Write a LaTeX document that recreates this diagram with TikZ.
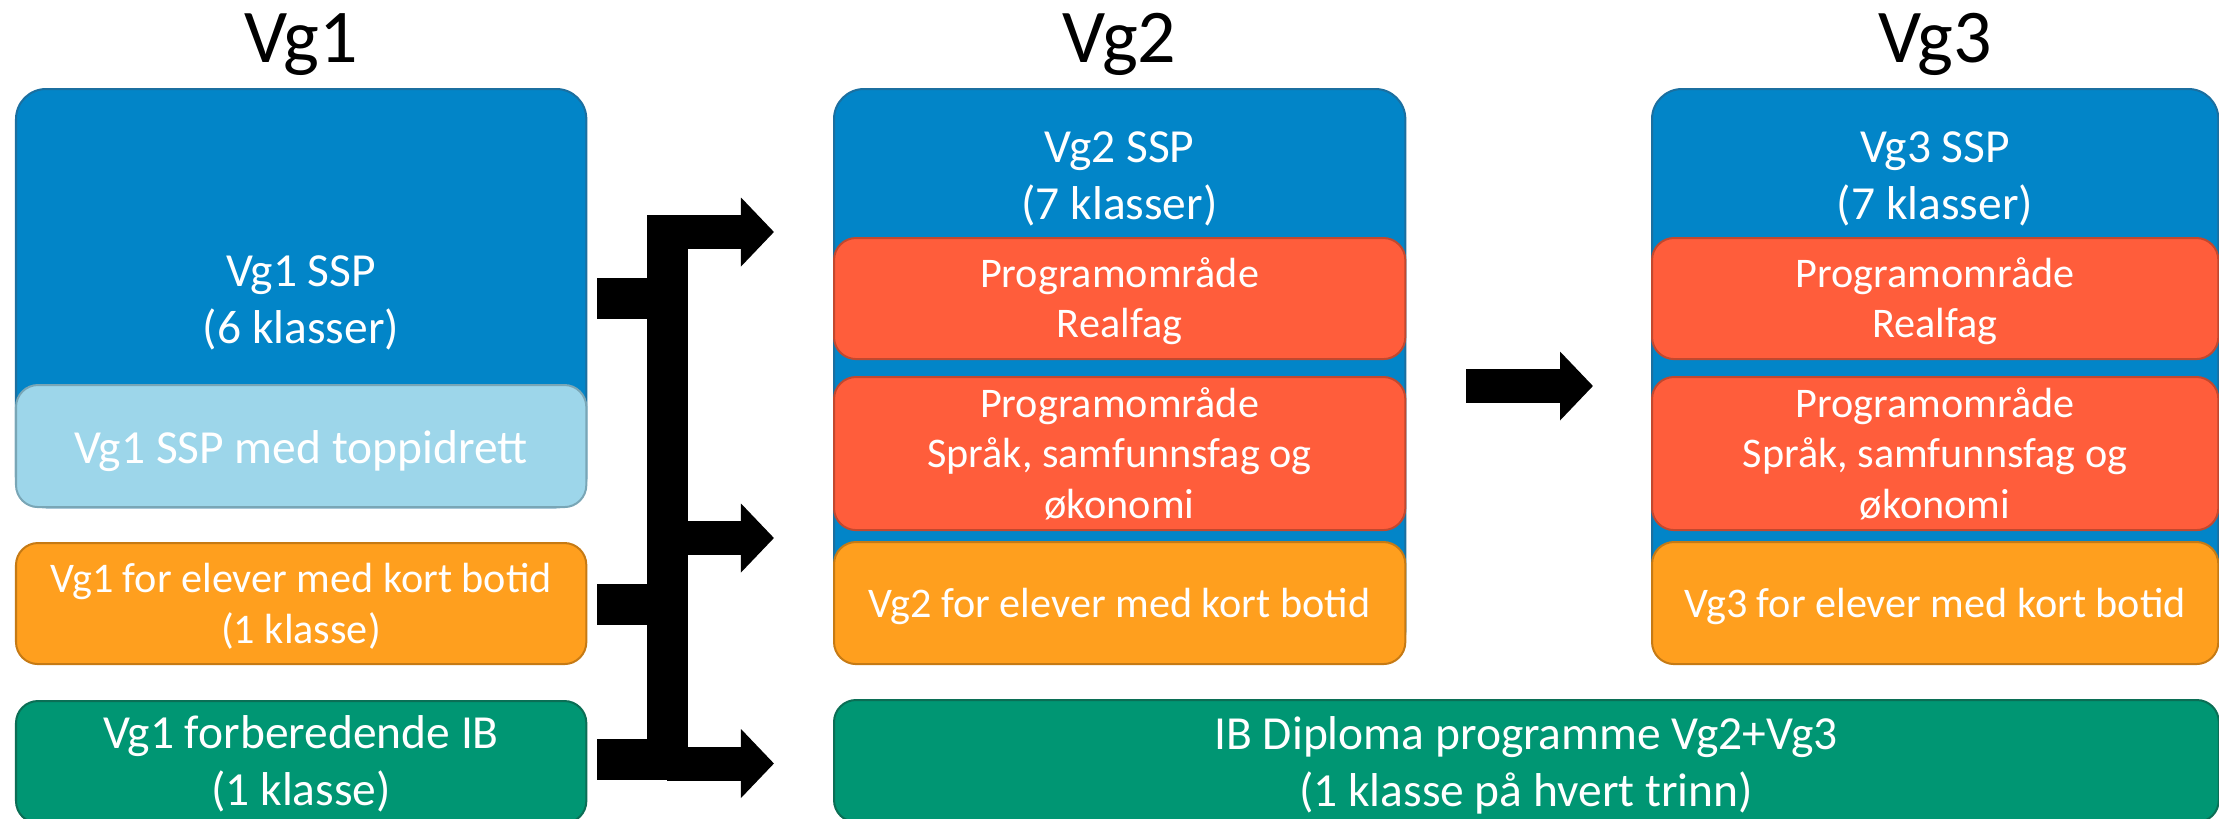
\documentclass[tikz,border=0pt]{standalone}
\usepackage{fontspec}
\setmainfont{Carlito}
\usetikzlibrary{arrows.meta}
\definecolor{cblue}{HTML}{0285C8}
\definecolor{cblueD}{HTML}{1B6FA0}
\definecolor{cred}{HTML}{FF5D3B}
\definecolor{credD}{HTML}{C2482E}
\definecolor{corange}{HTML}{FF9F1E}
\definecolor{corangeD}{HTML}{C67A14}
\definecolor{clight}{HTML}{9DD6EA}
\definecolor{clightD}{HTML}{79A6B6}
\definecolor{cgreen}{HTML}{009673}
\definecolor{cgreenD}{HTML}{0B6E55}
\tikzset{
  box/.style={draw, rounded corners=0.22cm, inner sep=0pt, outer sep=0pt, anchor=north west, line width=0.02cm},
  bigbox/.style={box, rounded corners=0.3cm},
  bluebox/.style={bigbox, fill=cblue, draw=cblueD},
  redbox/.style={box, fill=cred, draw=credD},
  orangebox/.style={box, fill=corange, draw=corangeD},
  lightbox/.style={box, fill=clight, draw=clightD},
  greenbox/.style={box, fill=cgreen, draw=cgreenD},
  bigtxt/.style={font=\fontsize{13.5}{16}\selectfont, text=white, inner sep=0pt, anchor=base},
  smalltxt/.style={font=\fontsize{12}{14}\selectfont, text=white, inner sep=0pt, anchor=base},
  titletxt/.style={font=\fontsize{21.6}{26}\selectfont, text=black, inner sep=0pt, anchor=base},
  shaft/.style={line width=0.34cm, line cap=butt, -{Triangle[length=0.33cm,width=0.67cm]}},
}
\begin{document}
\begin{tikzpicture}[x=0.01cm, y=-0.01cm]
\useasboundingbox (0,0) rectangle (2219,818);
\clip (0,0) rectangle (2219,818);

% titles
\node[titletxt] (t1) at (301,62) {Vg1};
\node[titletxt] (t2) at (1119.5,62) {Vg2};
\node[titletxt] (t3) at (1935,62) {Vg3};

% Vg1 column
\node[bluebox, minimum width=5.70cm, minimum height=4.18cm] (vg1ssp) at (16,89) {};
\node[lightbox, minimum width=5.70cm, minimum height=1.22cm] (vg1top) at (16,385) {};
\node[orangebox, minimum width=5.70cm, minimum height=1.21cm] (vg1kb) at (16,543) {};
\node[greenbox, minimum width=5.70cm, minimum height=1.22cm] (vg1ib) at (16,701) {};

\node[bigtxt] (vg1a) at (301,286) {Vg1 SSP};
\node[bigtxt] (vg1b) at (301,343) {(6 klasser)};
\node[bigtxt] (vg1c) at (301,463) {Vg1 SSP med toppidrett};
\node[smalltxt] (vg1d) at (301,592) {Vg1 for elever med kort botid};
\node[smalltxt] (vg1e) at (301,643) {(1 klasse)};
\node[bigtxt] (vg1f) at (301,748) {Vg1 forberedende IB};
\node[bigtxt] (vg1g) at (301,805) {(1 klasse)};

% Vg2 column
\node[bluebox, minimum width=5.71cm, minimum height=5.71cm] (vg2ssp) at (834,89) {};
\node[redbox, minimum width=5.71cm, minimum height=1.21cm] (vg2re) at (834,238) {};
\node[redbox, minimum width=5.71cm, minimum height=1.53cm] (vg2sp) at (834,377) {};
\node[orangebox, minimum width=5.71cm, minimum height=1.22cm] (vg2kb) at (834,542) {};

\node[bigtxt] (vg2a) at (1119.5,162) {Vg2 SSP};
\node[bigtxt] (vg2b) at (1119.5,219) {(7 klasser)};
\node[smalltxt] (vg2c) at (1119.5,287) {Programområde};
\node[smalltxt] (vg2d) at (1119.5,337) {Realfag};
\node[smalltxt] (vg2e) at (1119.5,417) {Programområde};
\node[smalltxt] (vg2f) at (1119.5,467) {Språk, samfunnsfag og};
\node[smalltxt] (vg2g) at (1119.5,518) {økonomi};
\node[smalltxt] (vg2h) at (1119.5,617) {Vg2 for elever med kort botid};

% Vg3 column
\node[bluebox, minimum width=5.66cm, minimum height=5.71cm] (vg3ssp) at (1652,89) {};
\node[redbox, minimum width=5.66cm, minimum height=1.21cm] (vg3re) at (1652,238) {};
\node[redbox, minimum width=5.66cm, minimum height=1.53cm] (vg3sp) at (1652,377) {};
\node[orangebox, minimum width=5.66cm, minimum height=1.22cm] (vg3kb) at (1652,542) {};

\node[bigtxt] (vg3a) at (1935,162) {Vg3 SSP};
\node[bigtxt] (vg3b) at (1935,219) {(7 klasser)};
\node[smalltxt] (vg3c) at (1935,287) {Programområde};
\node[smalltxt] (vg3d) at (1935,337) {Realfag};
\node[smalltxt] (vg3e) at (1935,417) {Programområde};
\node[smalltxt] (vg3f) at (1935,467) {Språk, samfunnsfag og};
\node[smalltxt] (vg3g) at (1935,518) {økonomi};
\node[smalltxt] (vg3h) at (1935,617) {Vg3 for elever med kort botid};

% IB diploma
\node[greenbox, minimum width=13.84cm, minimum height=1.22cm] (ibdp) at (834,700) {};
\node[bigtxt] (iba) at (1526,749) {IB Diploma programme Vg2+Vg3};
\node[bigtxt] (ibb) at (1526,806) {(1 klasse på hvert trinn)};

% connector Vg1 -> Vg2 (block shape)
\coordinate (s1) at (597,298.5);
\coordinate (s2) at (597,604.5);
\coordinate (s3) at (597,759.5);
\coordinate (tipA) at (774,232);
\coordinate (tipB) at (774,538);
\coordinate (tipC) at (774,763.5);
\fill[black] (647,215) rectangle (688,780);
\fill[black] (597,278) rectangle (647,319);
\fill[black] (597,584) rectangle (647,625);
\fill[black] (597,739) rectangle (647,780);
\draw[shaft] (667,232) -- (tipA);
\draw[shaft] (667,538) -- (tipB);
\draw[shaft] (667,763.5) -- (tipC);

% connector Vg2 -> Vg3
\coordinate (arrS) at (1466,386);
\coordinate (arrE) at (1593,386);
\draw[shaft] (arrS) -- (arrE);
\end{tikzpicture}
\end{document}
